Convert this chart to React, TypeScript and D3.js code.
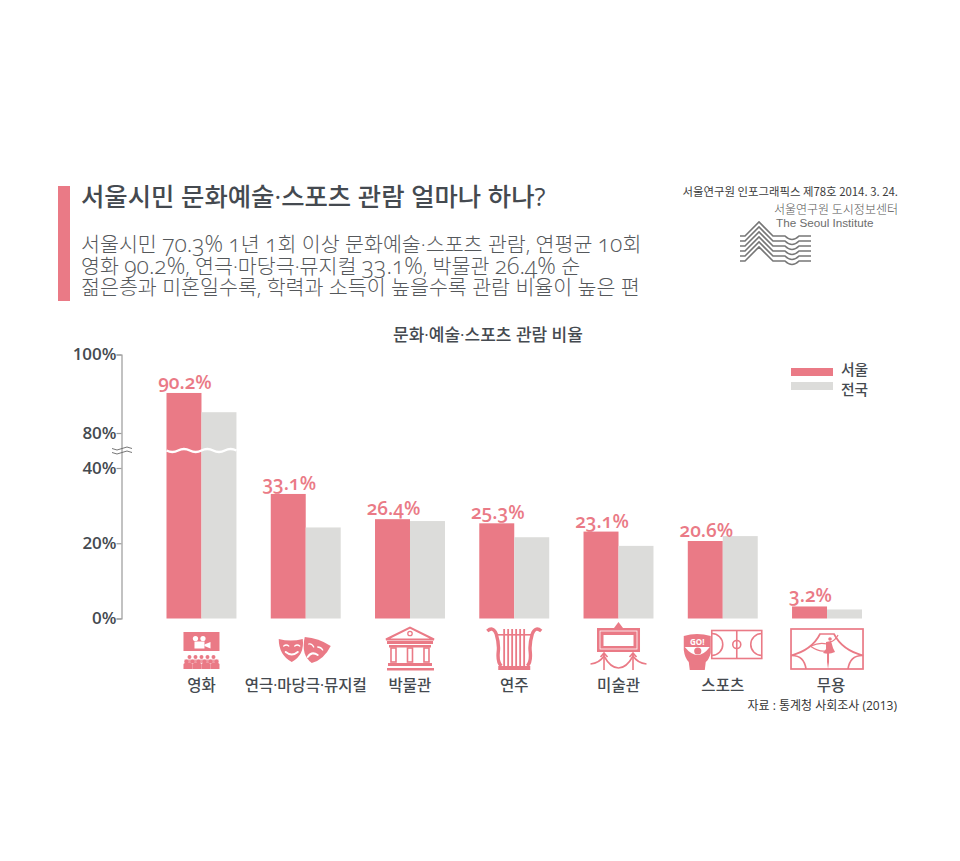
import { useRef, useEffect } from "react";
import * as d3 from "d3";

const CATEGORIES = ["영화", "연극·마당극·뮤지컬", "박물관", "연주", "미술관", "스포츠", "무용"];
const SEOUL = [90.2, 33.1, 26.4, 25.3, 23.1, 20.6, 3.2];
const NATIONAL = [85.3, 24.2, 25.9, 21.6, 19.3, 21.9, 2.4];
const Y_TICKS = [0, 20, 40, 80, 100];
const SERIES_NAMES = ["서울", "전국"];
const SUBTITLE = [
  "서울시민 70.3% 1년 1회 이상 문화예술·스포츠 관람, 연평균 10회",
  "영화 90.2%, 연극·마당극·뮤지컬 33.1%, 박물관 26.4% 순",
  "젊은층과 미혼일수록, 학력과 소득이 높을수록 관람 비율이 높은 편",
];

const PINK = "#ea7a86";
const GREY = "#dcdcda";
const DARK = "#454a50";
const KR = "'Noto Sans CJK KR', sans-serif";
// Open Sans first: narrow middle dots and old-style digits, hangul falls through
const MIX = "'Open Sans', 'Noto Sans CJK KR', sans-serif";

// axis is cut between 40 and 80
const y = d3.scaleLinear().domain([0, 40, 80, 100]).range([618.5, 468, 433, 354.5]);
const x = d3.scaleBand<string>().domain(CATEGORIES).range([166.5, 862]).paddingInner(0.329);
const bw = x.bandwidth() / 2;
const breakY = y(60);

const wave = (x0: number, x1: number, yy: number) => {
  let d = `M${x0},${yy}`;
  const n = Math.round((x1 - x0) / 12);
  const step = (x1 - x0) / n;
  for (let i = 0; i < n; i++) {
    const s = i % 2 === 0 ? 3 : -3;
    d += ` q${step / 2},${s} ${step},0`;
  }
  return d;
};

function Cinema() {
  return (
    <g fill={PINK}>
      <rect x={-18} y={12} width={36} height={19} />
      <g fill="#fff">
        <circle cx={-6} cy={18.5} r={2.6} />
        <circle cx={1.5} cy={18.5} r={2.6} />
        <rect x={-7} y={21.5} width={10} height={7} />
        <path d="M3,24.5 L9,22 V28.5 L3,26 Z" />
      </g>
      {[-12, -6, 0, 6, 12].map((c) => (
        <circle key={c} cx={c} cy={37} r={2} />
      ))}
      {[-15, -9, -3, 3, 9, 15].map((c) => (
        <circle key={c} cx={c} cy={41.5} r={2} />
      ))}
      <rect x={-17} y={39.5} width={34} height={3.5} opacity={0.75} />
      {[-18, -9, 0, 9].map((c) => (
        <path key={c} d={`M${c},49 v-4.5 q0,-1.5 1.5,-1.5 h6 q1.5,0 1.5,1.5 v4.5 Z`} />
      ))}
    </g>
  );
}

function Masks() {
  return (
    <g>
      <path d="M-27,19 Q-15,22 -3,19 Q-1,35 -14,42 Q-27,35 -27,19 Z" fill={PINK} />
      <path d="M-1,17 Q13,18 25,26 Q18,40 6,43 Q-5,35 -1,17 Z" fill={PINK} />
      <g fill="none" stroke="#fff" strokeWidth={1.3} strokeLinecap="round">
        <path d="M-22,26 q2.5,-2 5,0 M-11,26 q2.5,-2 5,0" />
        <path d="M-20,32 q6,5 12,0" strokeWidth={2} />
        <path d="M3,24 q3,-1 5,3 M12,27 q3,0 5,3" />
        <path d="M2,37 q4,-6 10,-2" strokeWidth={2} />
      </g>
    </g>
  );
}

function Temple() {
  return (
    <g>
      <path d="M-24,19.5 L0,7.5 L24,19.5 Z" fill="none" stroke={PINK} strokeWidth={2} />
      <circle cx={0} cy={13.5} r={2.2} fill="none" stroke={PINK} strokeWidth={1.3} />
      <g fill={PINK}>
        <rect x={-23} y={21} width={46} height={3} />
        <rect x={-21} y={25} width={42} height={2.5} />
        <rect x={-22} y={43} width={44} height={3} />
        <rect x={-23} y={48} width={47} height={2.5} />
      </g>
      {[-19, -2.5, 14].map((c) => (
        <rect key={c} x={c} y={28} width={5} height={14} fill="none" stroke={PINK} strokeWidth={1.6} />
      ))}
    </g>
  );
}

function Lyre() {
  return (
    <g>
      <path
        d="M-27,11 Q-21,6 -18,14 Q-15,24 -16,32 Q-17,42 -13,46 M27,11 Q21,6 18,14 Q15,24 16,32 Q17,42 13,46"
        fill="none"
        stroke={PINK}
        strokeWidth={3.4}
      />
      <rect x={-16} y={46} width={32} height={4} fill={PINK} />
      <rect x={-17} y={14} width={34} height={1.6} fill={PINK} />
      {[-11, -7, -3, 1, 5, 9].map((c) => (
        <rect key={c} x={c} y={9} width={1.8} height={37} fill={PINK} />
      ))}
    </g>
  );
}

function Picture() {
  return (
    <g>
      <path d="M-4.5,8 L0,2 L4.5,8 Z" fill={PINK} />
      <rect x={-21.5} y={8} width={43} height={24} fill={PINK} />
      <rect x={-18.5} y={11} width={37} height={18} fill="none" stroke="#fff" strokeWidth={0.8} />
      <rect x={-15} y={15} width={30} height={11} fill="#fff" />
      <g fill="none" stroke={PINK} strokeWidth={1.6}>
        <path d="M-14.5,33 V50 M14.5,33 V50" />
        <path d="M-18,37 L-14.5,33 L-11,37 M11,37 L14.5,33 L18,37" />
        <path d="M-28,44 Q-19,43 -14.5,36 Q-8,48 0,48 Q8,48 14.5,36 Q19,43 28,44" />
      </g>
    </g>
  );
}

function Sports() {
  return (
    <g>
      <path d="M-39,16 Q-26,12 -12,16 V33 Q-14,40 -17,42 L-18,50 H-33 L-34,42 Q-38,38 -39,30 Z" fill={PINK} />
      <text x={-25.5} y={24.5} fontSize={8} fontWeight={700} fontFamily={MIX} fill="#fff" textAnchor="middle">
        GO!
      </text>
      <path d="M-38,27 Q-25,43 -13,27 Z" fill="#fff" />
      <circle cx={-25} cy={31} r={3.6} fill={PINK} />
      <g fill="none" stroke={PINK} strokeWidth={1.6}>
        <rect x={-11} y={10.5} width={50} height={28} />
        <path d="M14,10.5 V38.5" />
        <circle cx={14} cy={24.5} r={4} />
        <path d="M-11,13.5 A11,11 0 0 1 -11,35.5 M39,13.5 A11,11 0 0 0 39,35.5" />
      </g>
    </g>
  );
}

function Dance() {
  return (
    <g>
      <g fill="none" stroke={PINK} strokeWidth={1.7}>
        <rect x={-36} y={9} width={72} height={40} />
        <path d="M-36,35.5 Q-15,30 -7,14 H7 Q15,30 36,35.5" />
        <path d="M-36,35.5 Q-23,35 -21,49 M36,35.5 Q23,35 21,49" />
      </g>
      <g fill={PINK}>
        <circle cx={3} cy={19} r={1.8} />
        <path d="M-1,22 L4,21 L6,28 L8,32 Q2,35 -4,33 L-1,29 Z" />
        <path d="M0,33 L2,33 L2,42 L1,49 L0,42 Z" />
      </g>
      <path d="M-16,26 Q-8,22 0,24 M-17,26 Q-8,32 -2,31 M3,22 Q8,21 11,15" fill="none" stroke={PINK} strokeWidth={1.2} />
    </g>
  );
}

const ICONS = [Cinema, Masks, Temple, Lyre, Picture, Sports, Dance];

function Logo() {
  const rows = [0, 5, 10, 15, 20, 25];
  return (
    <g fill="none" stroke="#777" strokeWidth={1.6}>
      {rows.map((o) => (
        <path key={o} d={`M740,${236 + o} H745 L759,${222 + o} L773,${236 + o} H785 Q792,${243 + o} 799,${236 + o} H811`} />
      ))}
    </g>
  );
}

export default function App() {
  const axisRef = useRef<SVGGElement>(null);

  useEffect(() => {
    if (!axisRef.current) return;
    d3.select(axisRef.current)
      .call(
        d3
          .axisLeft(y)
          .tickValues(Y_TICKS)
          .tickSize(5)
          .tickSizeOuter(5)
          .tickFormat((d) => `${d}%`)
      )
      .call((g) => g.select(".domain").attr("stroke", "#9a9a9a").attr("stroke-width", 1.2))
      .call((g) => g.selectAll(".tick line").attr("stroke", "#9a9a9a").attr("stroke-width", 1.2))
      .call((g) =>
        g
          .selectAll<SVGTextElement, unknown>(".tick text")
          .attr("fill", DARK)
          .attr("font-size", 17)
          .attr("font-weight", 600)
          .attr("font-family", MIX)
          .attr("x", -5)
      );
  }, []);

  return (
    <svg width={960} height={861} style={{ position: "absolute", left: 0, top: 0, background: "#fff" }}>
      {/* header */}
      <rect x={58} y={186} width={12} height={115} fill={PINK} />
      <text x={81} y={206} fontSize={25.4} fontWeight={500} fontFamily={MIX} fill={DARK}>
        서울시민 문화예술·스포츠 관람 얼마나 하나?
      </text>
      <g fontSize={20.6} fontWeight={300} fontFamily={MIX} fill="#55585b" style={{ fontVariantNumeric: "oldstyle-nums" }}>
        {SUBTITLE.map((line, i) => (
          <text key={line} x={81} y={[252, 274, 295][i]}>
            {/* digits run larger than the hangul in the reference */}
            {line.split(/([\d.%]+)/).map((part, j) =>
              j % 2 ? (
                <tspan key={j} fontSize={23}>
                  {part}
                </tspan>
              ) : (
                part
              )
            )}
          </text>
        ))}
      </g>

      <text x={898} y={196} fontSize={11.4} fontFamily={KR} fill="#3c3c3c" textAnchor="end">
        서울연구원 인포그래픽스 제78호 2014. 3. 24.
      </text>
      <text x={898} y={214} fontSize={12} fontWeight={300} fontFamily={KR} fill="#555" textAnchor="end">
        서울연구원 도시정보센터
      </text>
      <text x={776} y={227} fontSize={11.7} fontFamily="'Liberation Sans', sans-serif" fill="#6d6d6d">
        The Seoul Institute
      </text>
      <Logo />

      <text x={488} y={341} fontSize={17} fontWeight={500} fontFamily={MIX} fill={DARK} textAnchor="middle">
        문화·예술·스포츠 관람 비율
      </text>

      {/* bars */}
      {CATEGORIES.map((c, i) => (
        <g key={c}>
          <rect x={x(c)} y={y(SEOUL[i])} width={bw} height={y(0) - y(SEOUL[i])} fill={PINK} />
          <rect x={x(c)! + bw} y={y(NATIONAL[i])} width={bw} height={y(0) - y(NATIONAL[i])} fill={GREY} />
          <text
            x={x(c)! + bw / 2 + 1}
            y={y(SEOUL[i]) - 4}
            fontSize={19}
            fontWeight={600}
            fontFamily={MIX}
            fill={PINK}
            textAnchor="middle"
            style={{ fontVariantNumeric: "oldstyle-nums" }}
          >
            {SEOUL[i]}%
          </text>
        </g>
      ))}

      {/* break in the first bars */}
      <path
        d={wave(x(CATEGORIES[0])!, x(CATEGORIES[0])! + 2 * bw, breakY)}
        fill="none"
        stroke="#fff"
        strokeWidth={2.4}
      />

      <g ref={axisRef} transform="translate(121.5,0)" />
      <path d={wave(112, 132, breakY - 2)} fill="none" stroke="#666" strokeWidth={0.9} />
      <path d={wave(112, 132, breakY + 2)} fill="none" stroke="#666" strokeWidth={0.9} />

      {/* legend */}
      {SERIES_NAMES.map((name, i) => (
        <g key={name}>
          <rect x={791} y={368 + i * 14} width={42} height={8} fill={i ? GREY : PINK} />
          <text x={841} y={375 + i * 20} fontSize={14.8} fontWeight={500} fontFamily={KR} fill={DARK}>
            {name}
          </text>
        </g>
      ))}

      {/* icons and category labels */}
      {CATEGORIES.map((c, i) => {
        const Icon = ICONS[i];
        const cx = x(c)! + bw;
        return (
          <g key={c} transform={`translate(${cx},620)`}>
            <Icon />
            <text x={i === 6 ? 4 : 0} y={71} fontSize={15.5} fontWeight={500} fontFamily={MIX} fill={DARK} textAnchor="middle">
              {c}
            </text>
          </g>
        );
      })}

      <text x={897} y={710} fontSize={12} fontFamily={MIX} fontWeight={400} fill="#333" textAnchor="end">
        자료 : 통계청 사회조사 (2013)
      </text>
    </svg>
  );
}
